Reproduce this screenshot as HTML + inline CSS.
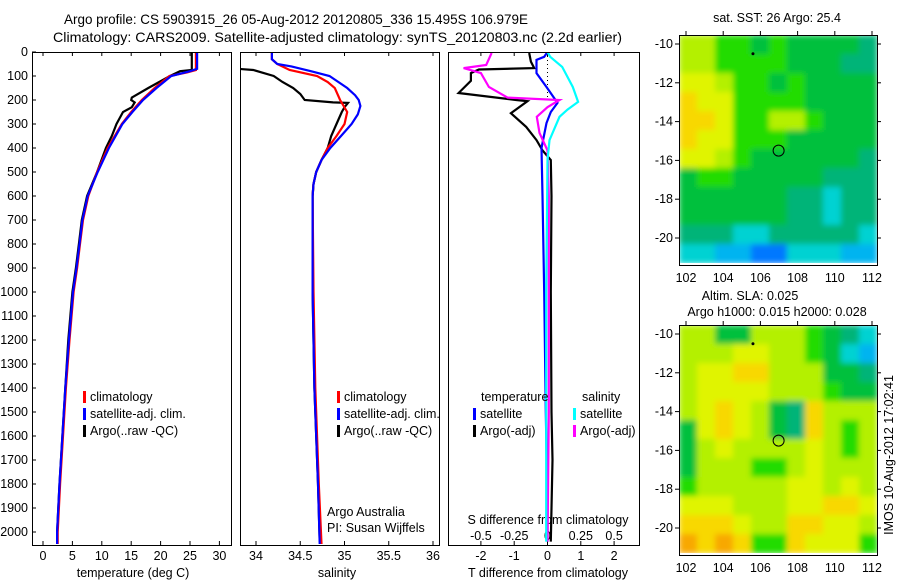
<!DOCTYPE html>
<html><head><meta charset="utf-8">
<style>
html,body{margin:0;padding:0;background:#fff;}
svg{display:block;font-family:"Liberation Sans",sans-serif;}
text{font-size:12.5px;fill:#000;}
</style></head>
<body>
<svg id="fig" width="900" height="580" viewBox="0 0 900 580" xmlns="http://www.w3.org/2000/svg">
<rect x="0" y="0" width="900" height="580" fill="#fff"/>
<defs>
<filter id="smooth" x="0" y="0" width="100%" height="100%"><feGaussianBlur stdDeviation="3" edgeMode="duplicate"/></filter>
</defs>
<text x="64" y="24" textLength="464" lengthAdjust="spacingAndGlyphs" style="font-size:14px">Argo profile: CS 5903915_26 05-Aug-2012 20120805_336 15.495S 106.979E</text>
<text x="53" y="42" textLength="569" lengthAdjust="spacingAndGlyphs" style="font-size:14px">Climatology: CARS2009. Satellite-adjusted climatology: synTS_20120803.nc (2.2d earlier)</text>
<g id="g"></g>
</svg>
<script>
// ---- data: temperature profiles (depth m, temp degC)
const tClimDepth=[0,75,85,100,150,200,250,300,400,500,600,700,800,900,1000,1200,1400,1600,1800,2000,2050];
const tClimVal=[26,26,24.5,21.5,19,16.8,15,13.4,11,9.2,7.7,6.8,6.3,5.8,5.2,4.5,3.9,3.4,2.9,2.5,2.5];
const tSatDepth=[0,70,80,100,150,200,250,300,400,500,600,700,800,900,1000,1200,1400,1600,1800,2000,2050];
const tSatVal=[26.2,26.2,25,21.8,19.3,17,15.2,13.5,11.2,9.3,7.6,6.7,6.2,5.7,5.1,4.4,3.8,3.3,2.8,2.4,2.4];
const tArgoDepth=[0,75,80,100,150,190,200,210,230,250,300,350,400,500,600,700,800,900,1000,1200,1400,1600,1800,2000,2040];
const tArgoVal=[25.3,25.3,23.3,21.6,17.9,15.1,15,15.6,15.1,13.6,12.5,11.7,10.7,9.2,7.5,6.6,6.1,5.6,5.0,4.3,3.8,3.3,2.8,2.4,2.4];
// ---- salinity profiles
const sClimDepth=[0,30,50,75,100,125,150,200,250,300,350,400,450,500,550,600,1000,1400,1800,2050];
const sClimVal=[34.18,34.18,34.24,34.38,34.69,34.81,34.89,34.95,35.03,35.0,34.91,34.81,34.74,34.68,34.65,34.64,34.65,34.67,34.71,34.74];
const sSatDepth=[0,30,50,60,80,100,150,180,200,225,260,300,350,400,450,500,550,600,1000,1400,1800,2050];
const sSatVal=[34.18,34.18,34.24,34.4,34.62,34.83,35.03,35.12,35.16,35.18,35.15,35.08,34.96,34.84,34.74,34.68,34.65,34.64,34.64,34.66,34.7,34.72];
const sArgoDepth=[71,75,100,125,150,175,200,210,212,230,250,300,350,400,450,500,550,600,1000,1400,1800,2040];
const sArgoVal=[33.82,33.97,34.2,34.3,34.42,34.5,34.55,34.87,35.04,35.0,34.97,34.91,34.85,34.81,34.74,34.68,34.65,34.64,34.64,34.66,34.7,34.72];
// ---- differences from climatology
const dTSatDepth=[0,20,33,88,146,212,250,296,400,600,1000,1500,1900,2040];
const dTSatVal=[0,-0.1,-0.33,-0.33,-0.03,0.3,0.1,-0.03,-0.18,-0.15,-0.1,-0.05,0.0,0.0];
const dTArgoDepth=[4,40,67,73,88,120,171,200,205,255,312,367,410,450,600,1000,1500,1700,1900,2040];
const dTArgoVal=[-0.55,-0.5,-0.4,-2.06,-2.3,-2.3,-2.67,-0.94,-0.6,-1.1,-0.64,-0.33,-0.15,0.1,0.12,0.1,0.12,0.15,0.12,0.1];
const dSSatDepth=[0,20,62,146,208,240,270,367,450,1000,2040];
const dSSatVal=[0,0.02,0.11,0.19,0.23,0.15,0.09,0.015,0.0,-0.01,-0.01];
const dSArgoDepth=[4,54,67,88,146,190,200,230,270,337,410,600,1500,2040];
const dSArgoVal=[-0.42,-0.46,-0.63,-0.5,-0.44,-0.3,0.09,0.0,-0.08,-0.06,0.0,0.01,0.01,0.0];
// ---- tick labels
const depthTicks=[0,100,200,300,400,500,600,700,800,900,1000,1100,1200,1300,1400,1500,1600,1700,1800,1900,2000];
const tempTicks=[0,5,10,15,20,25,30];
const salTicks=[34,34.5,35,35.5,36];
const salTickLabels=["34","34.5","35","35.5","36"];
const dTTicks=[-2,-1,0,1,2];
const dSTicks=[-0.5,-0.25,0,0.25,0.5];
const dSTickLabels=["-0.5","-0.25","0","0.25","0.5"];
const lonTicks=[102,104,106,108,110,112];
const latTicks=[-10,-12,-14,-16,-18,-20];
// ---- map grids (colour levels 0..9), rows lat -10..-21, cols lon 102..112
const sstGrid=[
[6,6,5,5,4,5,4,4,4,4,3],[6,6,5,5,5,5,4,4,4,3,3],[7,7,6,5,5,4,5,4,4,4,4],[8,7,7,5,5,5,5,4,4,4,4],
[8,8,7,5,5,6,6,5,4,4,4],[8,7,7,5,5,5,4,4,4,4,4],[7,7,6,5,4,4,4,4,4,4,3],[4,5,5,4,4,4,4,4,3,3,3],
[4,4,4,4,4,4,3,3,2,3,3],[4,4,4,4,4,4,3,3,2,3,3],[3,3,3,2,2,3,3,3,3,3,2],[2,2,1,1,0,0,2,2,2,1,1]];
const slaGrid=[
[6,6,4,4,6,6,6,5,4,3,2],[6,6,6,7,7,6,6,5,4,2,1],[6,7,7,8,8,6,6,6,4,4,3],[6,7,7,7,7,6,6,6,5,4,4],
[6,7,8,7,6,4,3,8,6,6,6],[4,7,8,7,6,4,3,8,6,5,6],[4,6,7,6,6,6,6,7,6,5,6],[4,6,6,6,5,5,6,7,6,6,6],
[5,6,6,6,6,6,7,7,6,7,6],[7,7,7,6,6,6,7,7,8,8,7],[8,8,8,7,6,6,8,8,7,7,6],[9,8,9,8,5,5,8,7,7,7,5]];
const palette=["#0078ff","#00b4f0","#00d2d2","#00b478","#00c03c","#20dc00","#b4f000","#e0f400","#f8d800","#f8a800"];
const argoLon=106.979, argoLat=-15.495;

const NS="http://www.w3.org/2000/svg";
const G=document.getElementById('g');
function mk(tag,attrs,parent){const e=document.createElementNS(NS,tag);for(const k in attrs)e.setAttribute(k,attrs[k]);(parent||G).appendChild(e);return e;}

const yTop=52,yBot=545;
const yD=d=>yTop+d*0.24;
const xT=v=>43+v*5.88;
const xS=v=>256+(v-34)*88.5;
const xDT=v=>547.5+v*33.3;
const xDS=v=>547.5+v*133.2;
const panels=[[32,231],[240,439],[448,639]];

depthTicks.forEach(d=>{
  const t=mk('text',{x:28,y:yD(d)+4,'text-anchor':'end'});
  
  
  t.textContent=d;
  const l=mk('line',{x1:32,x2:36,y1:yD(d),y2:yD(d),stroke:'#000'});
  
  
});

function panelFrame(i,name){
  const p=panels[i];
  const r=mk('rect',{x:p[0]+.5,y:yTop+.5,width:p[1]-p[0],height:yBot-yTop,fill:'none',stroke:'#000'});
  
  
}
panelFrame(0,'temperature-panel');panelFrame(1,'salinity-panel');panelFrame(2,'difference-panel');

function xticks(ticks,labels,fx,ty,name){
  ticks.forEach((v,i)=>{
    const x=fx(v);
    const a=mk('line',{x1:x,x2:x,y1:yBot,y2:yBot-4,stroke:'#000'});
    
    
    const b=mk('line',{x1:x,x2:x,y1:yTop,y2:yTop+4,stroke:'#000'});
    
    
    const t=mk('text',{x:x,y:ty,'text-anchor':'middle'});
    
    
    t.textContent=labels[i];
  });
}
xticks(tempTicks,tempTicks.map(String),xT,560,'temperature');
xticks(salTicks,salTickLabels,xS,560,'salinity');
xticks(dTTicks,dTTicks.map(String),xDT,560,'t-difference');
dSTicks.forEach((v,i)=>{
  const t=mk('text',{x:xDS(v),y:540,'text-anchor':'middle'});
  
  
  t.textContent=dSTickLabels[i];
});

function lbl(x,y,s,name,anchor){const t=mk('text',{x:x,y:y,'text-anchor':anchor||'start'});t.textContent=s;return t;}
lbl(133,577,'temperature (deg C)','temperature-axis-title','middle');
lbl(337,577,'salinity','salinity-axis-title','middle');
lbl(548,577,'T difference from climatology','t-difference-axis-title','middle');
lbl(548,524,'S difference from climatology','s-difference-axis-title','middle');
lbl(327,516,'Argo Australia','credit-line-1');
lbl(327,532,'PI: Susan Wijffels','credit-line-2');

const zl=mk('line',{x1:547.5,x2:547.5,y1:yD(0),y2:yD(200),stroke:'#000','stroke-dasharray':'1,3'});



function clipPanel(i){const id='clip'+i;const cp=mk('clipPath',{id:id});const p=panels[i];mk('rect',{x:p[0]+1,y:yTop+1,width:p[1]-p[0]-1,height:yBot-yTop-1},cp);return 'url(#'+id+')';}
const clips=[clipPanel(0),clipPanel(1),clipPanel(2)];
function line(depths,vals,fx,color,ci,name){
  const pts=depths.map((d,i)=>fx(vals[i]).toFixed(1)+','+yD(d).toFixed(1)).join(' ');
  const p=mk('polyline',{points:pts,fill:'none',stroke:color,'stroke-width':2.2,'clip-path':clips[ci]});
  
  
}
line(tArgoDepth,tArgoVal,xT,'#000',0,'temperature-argo-line');
line(tClimDepth,tClimVal,xT,'#f00',0,'temperature-climatology-line');
line(tSatDepth,tSatVal,xT,'#00f',0,'temperature-satellite-line');
line(sArgoDepth,sArgoVal,xS,'#000',1,'salinity-argo-line');
line(sClimDepth,sClimVal,xS,'#f00',1,'salinity-climatology-line');
line(sSatDepth,sSatVal,xS,'#00f',1,'salinity-satellite-line');
line(dTArgoDepth,dTArgoVal,xDT,'#000',2,'t-diff-argo-line');
line(dTSatDepth,dTSatVal,xDT,'#00f',2,'t-diff-satellite-line');
line(dSArgoDepth,dSArgoVal,xDS,'#f0f',2,'s-diff-argo-line');
line(dSSatDepth,dSSatVal,xDS,'#0ff',2,'s-diff-satellite-line');

function leg(x,y,color,s,name){
  const r=mk('rect',{x:x,y:y-10,width:3,height:12,fill:color});
  
  
  lbl(x+7,y,s,name);
}
leg(83,401,'#f00','climatology','legend-climatology');
leg(83,418,'#00f','satellite-adj. clim.','legend-satellite');
leg(83,435,'#000','Argo(..raw -QC)','legend-argo');
leg(337,401,'#f00','climatology','legend2-climatology');
leg(337,418,'#00f','satellite-adj. clim.','legend2-satellite');
leg(337,435,'#000','Argo(..raw -QC)','legend2-argo');
lbl(481,401,'temperature','legend-temperature-heading');
lbl(582,401,'salinity','legend-salinity-heading');
leg(473,418,'#00f','satellite','legend-t-satellite');
leg(473,435,'#000','Argo(-adj)','legend-t-argo');
leg(573,418,'#0ff','satellite','legend-s-satellite');
leg(573,435,'#f0f','Argo(-adj)','legend-s-argo');

function drawMap(top,grid,name){
  const L=679,R=877,T=top,B=top+228;
  const lonX=lon=>686+(lon-102)*18.6;
  const latY=lat=>T+9+(-10-lat)*19.4;
  const rows=grid.length,cols=grid[0].length;
  const cw=(R-L)/cols,ch=(B-T)/rows;
  const cpid=name+'-clip';
  const cp=mk('clipPath',{id:cpid});
  mk('rect',{x:L,y:T,width:R-L,height:B-T},cp);
  const outer=mk('g',{'clip-path':'url(#'+cpid+')'});
  
  
  const inner=mk('g',{filter:'url(#smooth)'},outer);
  grid.forEach((row,r)=>row.forEach((v,c)=>{
    const cell=mk('rect',{x:(L+c*cw).toFixed(2),y:(T+r*ch).toFixed(2),width:(cw+0.6).toFixed(2),height:(ch+0.6).toFixed(2),fill:palette[v]},inner);
    
    
  }));
  const wb=mk('rect',{x:L,y:B,width:R-L,height:3,fill:'#fff'});
  
  
  const fr=mk('rect',{x:L+.5,y:T+.5,width:R-L,height:B-T+2,fill:'none',stroke:'#000'});
  
  
  lonTicks.forEach(v=>{
    const x=lonX(v);
    const a=mk('line',{x1:x,x2:x,y1:T,y2:T-4,stroke:'#000'});
    
    
    lbl(x,B+19,String(v),name+'-lon-label','middle');
  });
  latTicks.forEach(v=>{
    const y=latY(v);
    const a=mk('line',{x1:L,x2:L-4,y1:y,y2:y,stroke:'#000'});
    
    
    const b=mk('line',{x1:R,x2:R+4,y1:y,y2:y,stroke:'#000'});
    
    
    lbl(673,y+4,String(v),name+'-lat-label','end');
  });
  const c=mk('circle',{cx:lonX(argoLon),cy:latY(argoLat),r:5.5,fill:'none',stroke:'#000'});
  
  
  const m=mk('circle',{cx:lonX(105.6),cy:latY(-10.5),r:1.5,fill:'#000'});
  
  
}
drawMap(35,sstGrid,'sst-map');
drawMap(325,slaGrid,'sla-map');
lbl(777,22,'sat. SST: 26 Argo: 25.4','sst-map-title','middle');
lbl(750,300,'Altim. SLA: 0.025','sla-map-title','middle');
lbl(777,316,'Argo h1000: 0.015 h2000: 0.028','sla-map-subtitle','middle');
const ts=lbl(0,0,'IMOS 10-Aug-2012 17:02:41','imos-timestamp','middle');
ts.setAttribute('transform','translate(893,455) rotate(-90)');
</script>
</body></html>
